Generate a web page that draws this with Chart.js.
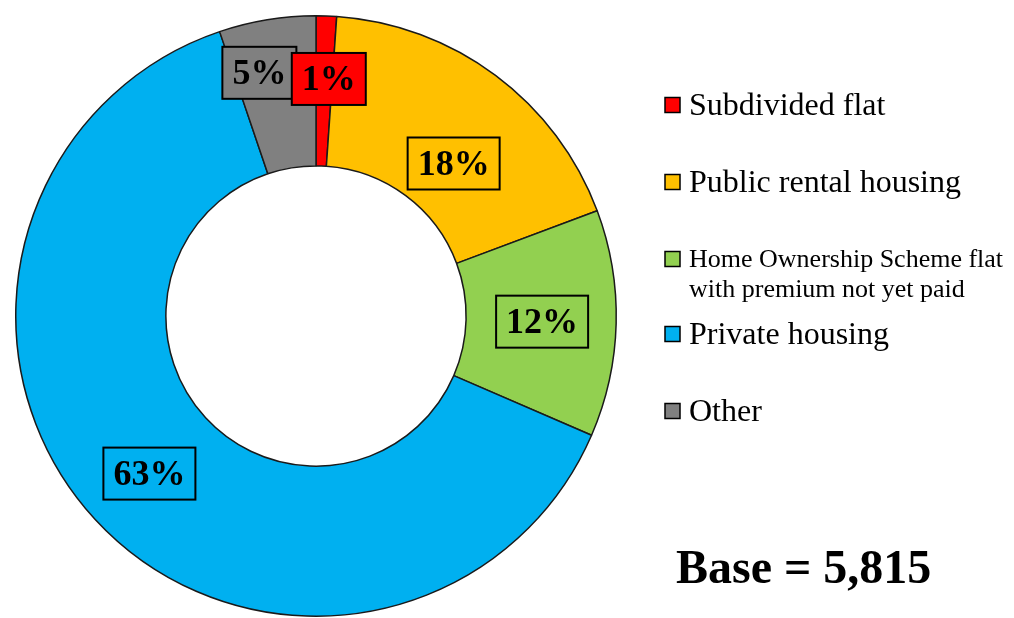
<!DOCTYPE html>
<html>
<head>
<meta charset="utf-8">
<script src="https://cdn.jsdelivr.net/npm/chart.js@4/dist/chart.umd.min.js"></script>
<style>
  html, body { margin: 0; padding: 0; background: #ffffff; overflow: hidden; }
  #wrap { width: 1014px; height: 618px; position: relative; }
</style>
</head>
<body>
<div id="wrap"><canvas id="c" width="1014" height="618"></canvas></div>
<script>
// ---- data ----
const categories = [
  'Subdivided flat',
  'Public rental housing',
  ['Home Ownership Scheme flat', 'with premium not yet paid'],
  'Private housing',
  'Other'
];
const shares = [1.1, 18.2, 12.2, 63.3, 5.2];
const sliceColors = ['#FF0000', '#FFC000', '#92D050', '#00B0F0', '#808080'];
const baseText = 'Base = 5,815';

// ---- label plugin (boxes with percentages) ----
const boxLabels = {
  id: 'boxLabels',
  afterDatasetsDraw(chart, args, opts) {
    const ctx = chart.ctx;
    const meta = chart.getDatasetMeta(0);
    const ds = chart.data.datasets[0];
    const total = ds.data.reduce((a, b) => a + b, 0);
    ctx.save();
    ctx.font = 'bold 36px "Liberation Serif", "Times New Roman", serif';
    ctx.textAlign = 'center';
    ctx.textBaseline = 'middle';
    opts.order.forEach(i => {
      const arc = meta.data[i];
      const p = arc.getProps(['x', 'y', 'startAngle', 'endAngle', 'innerRadius', 'outerRadius'], true);
      const mid = (p.startAngle + p.endAngle) / 2;
      const r = (p.innerRadius + p.outerRadius) / 2;
      const off = opts.offsets[i];
      const cx = p.x + Math.cos(mid) * r + off[0];
      const cy = p.y + Math.sin(mid) * r + off[1];
      const txt = Math.round(ds.data[i] / total * 100) + '%';
      const w = ctx.measureText(txt).width + 20;
      const h = 52;
      ctx.fillStyle = sliceColors[i];
      ctx.fillRect(cx - w / 2, cy - h / 2, w, h);
      ctx.lineWidth = 2;
      ctx.strokeStyle = '#000';
      ctx.strokeRect(cx - w / 2, cy - h / 2, w, h);
      ctx.fillStyle = '#000';
      ctx.fillText(txt, cx, cy + 2);
    });
    ctx.restore();
  }
};

// ---- custom legend + base text ----
const sideLegend = {
  id: 'sideLegend',
  afterDraw(chart, args, opts) {
    const ctx = chart.ctx;
    ctx.save();
    categories.forEach((lab, i) => {
      const cy = opts.rows[i];
      const s = 15;
      ctx.fillStyle = sliceColors[i];
      ctx.fillRect(opts.boxX, cy - s / 2, s, s);
      ctx.lineWidth = 1.5;
      ctx.strokeStyle = '#000';
      ctx.strokeRect(opts.boxX, cy - s / 2, s, s);
      ctx.fillStyle = '#000';
      ctx.textAlign = 'left';
      ctx.textBaseline = 'alphabetic';
      if (Array.isArray(lab)) {
        ctx.font = '26px "Liberation Serif", "Times New Roman", serif';
        lab.forEach((line, k) => ctx.fillText(line, opts.textX, cy + 8 + k * 30));
      } else {
        ctx.font = '32px "Liberation Serif", "Times New Roman", serif';
        ctx.fillText(lab, opts.textX, cy + 10);
      }
    });
    ctx.font = 'bold 48px "Liberation Serif", "Times New Roman", serif';
    ctx.fillText(baseText, opts.baseX, opts.baseY);
    ctx.restore();
  }
};

new Chart(document.getElementById('c'), {
  type: 'doughnut',
  data: {
    labels: categories.map(c => Array.isArray(c) ? c.join(' ') : c),
    datasets: [{
      data: shares,
      backgroundColor: sliceColors,
      borderColor: '#1a1a1a',
      borderWidth: 1.5,
      borderAlign: 'center',
      hoverOffset: 0
    }]
  },
  options: {
    responsive: false,
    devicePixelRatio: 1,
    animation: false,
    cutout: '50%',
    layout: { padding: { left: 15, top: 15, right: 397, bottom: 1 } },
    plugins: {
      legend: { display: false },
      tooltip: { enabled: false },
      boxLabels: {
        order: [1, 2, 3, 4, 0],
        offsets: [[5, -12], [3, 28], [1, 0], [-1, 5], [-20, -21]]
      },
      sideLegend: {
        boxX: 665, textX: 689,
        rows: [105, 182, 259, 334, 411],
        baseX: 676, baseY: 583
      }
    }
  },
  plugins: [boxLabels, sideLegend]
});
</script>
</body>
</html>
